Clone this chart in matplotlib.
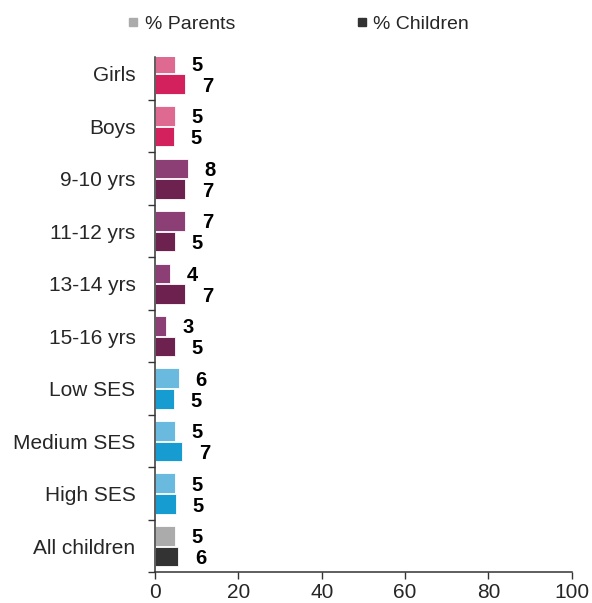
import matplotlib
matplotlib.use("Agg")
import matplotlib.pyplot as plt
from matplotlib.lines import Line2D
import numpy as np

plt.rcParams['font.family'] = ['Liberation Sans', 'DejaVu Sans']

####################################################### data
categories = ['Girls', 'Boys', '9-10 yrs', '11-12 yrs', '13-14 yrs', '15-16 yrs',
              'Low SES', 'Medium SES', 'High SES', 'All children']
parents = [4.8, 4.8, 7.9, 7.2, 3.6, 2.6, 5.7, 4.7, 4.7, 4.7]
children = [7.2, 4.6, 7.2, 4.7, 7.2, 4.7, 4.6, 6.6, 5.0, 5.6]
parent_colors = ['#de6a92', '#de6a92', '#8c3f74', '#8c3f74', '#8c3f74', '#8c3f74',
                 '#6ab9df', '#6ab9df', '#6ab9df', '#ababab']
child_colors = ['#d3215d', '#d3215d', '#6c214e', '#6c214e', '#6c214e', '#6c214e',
                '#169cd0', '#169cd0', '#169cd0', '#333333']
legend_labels = ['% Parents', '% Children']
legend_colors = ['#ababab', '#333333']
xticks = [0, 20, 40, 60, 80, 100]

####################################################### figure
fig = plt.figure(figsize=(5.92, 6.03), dpi=100)
ax = fig.add_axes([0.2618, 0.0509, 0.704, 0.8546])

y = np.arange(len(categories))
h = 0.375
off = 0.197
ax.barh(y - off, parents, height=h, color=parent_colors, edgecolor='white', linewidth=0.6)
ax.barh(y + off, children, height=h, color=child_colors, edgecolor='white', linewidth=0.6)

for yy, p, c in zip(y, parents, children):
    ax.annotate(f"{p:.0f}", (p, yy - off), xytext=(12, -1.5), textcoords='offset points',
                ha='left', va='center', fontsize=14.5, fontweight='bold', color='black')
    ax.annotate(f"{c:.0f}", (c, yy + off), xytext=(12, -1.5), textcoords='offset points',
                ha='left', va='center', fontsize=14.5, fontweight='bold', color='black')

ax.set_xlim(0, 100)
ax.set_ylim(9.5, -0.32)
ax.set_xticks(xticks)
ax.set_yticks(y)
ax.set_yticklabels(categories)
ax.set_yticks(np.arange(0.5, 9.6, 1), minor=True)
ax.tick_params(axis='y', which='major', length=0, pad=14, labelsize=15, labelcolor='#262626')
ax.tick_params(axis='y', which='minor', length=5, width=1, color='#333333', direction='out')
ax.tick_params(axis='x', length=5, width=1, color='#333333', pad=3, labelsize=15, labelcolor='#262626')

for s in ['top', 'right']:
    ax.spines[s].set_visible(False)
for s in ['left', 'bottom']:
    ax.spines[s].set_color('#333333')
    ax.spines[s].set_linewidth(1.1)

handles = [Line2D([], [], marker='s', linestyle='none', markersize=6,
                  markerfacecolor=c, markeredgecolor=c) for c in legend_colors]
fig.legend(handles, legend_labels, loc='center left', bbox_to_anchor=(0.215, 1 - 24 / 603),
           ncol=2, frameon=False, fontsize=14, borderpad=0, borderaxespad=0,
           handlelength=0.6, handletextpad=0.3, columnspacing=6.2, labelcolor='#262626')

fig.savefig('out.png', dpi=100)
